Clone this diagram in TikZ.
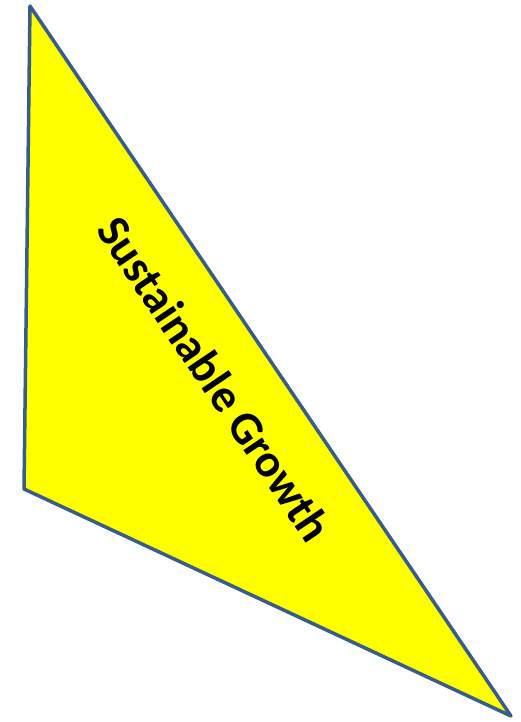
\documentclass[tikz,border=0pt]{standalone}
\usepackage{fontspec}
\setmainfont{Carlito}
\usepackage{tikz}
\definecolor{edgeBlue}{RGB}{56, 93, 138}
\definecolor{fillYellow}{RGB}{255, 255, 0}

\begin{document}
\begin{tikzpicture}[
            x=1pt, y=-1pt,
            every node/.style={font=\bfseries\fontsize{46.5}{56}\selectfont, align=center},
            wedge/.style={draw=edgeBlue, line width=3.5pt, line join=round, fill=fillYellow}
        ]
            \useasboundingbox (0,0) rectangle (520,722);
            \coordinate (top) at (30,6);
            \coordinate (left) at (24,489);
            \coordinate (tip) at (511,716);
            \draw[wedge] (top) -- (left) -- (tip) -- cycle;
            \node[rotate=-56, inner sep=0pt] (label) at (215,379) {Sustainable Growth};
        \end{tikzpicture}
\end{document}
